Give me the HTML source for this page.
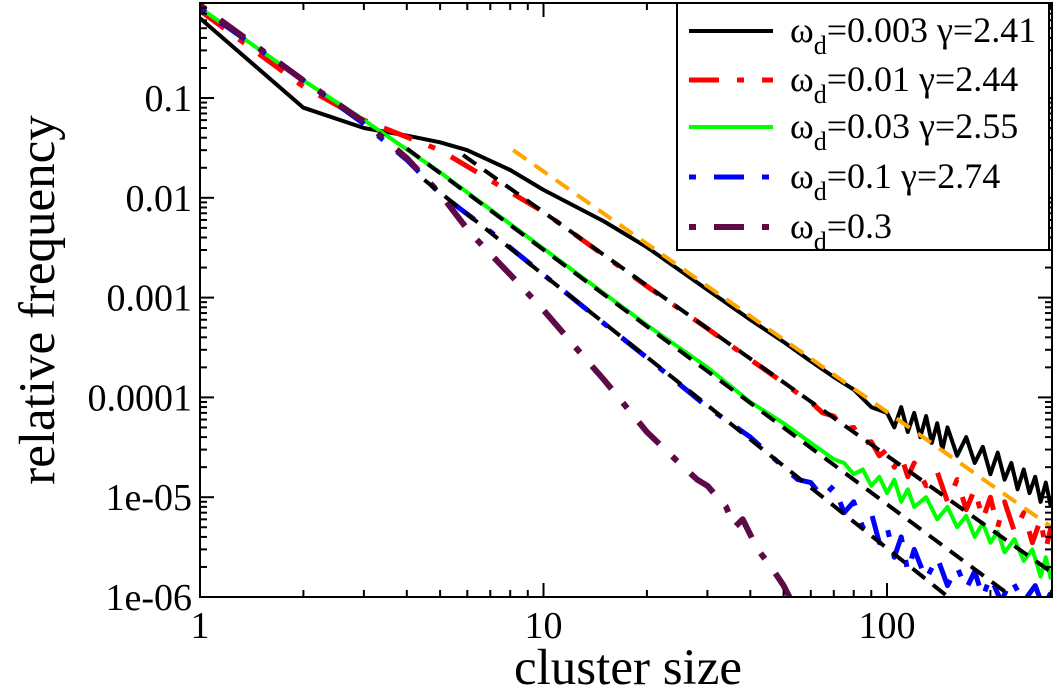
<!DOCTYPE html>
<html><head><meta charset="utf-8"><style>
html,body{margin:0;padding:0;background:#fff;}
svg{display:block;font-family:"Liberation Serif","DejaVu Serif",serif;}
</style></head><body>
<svg id="chart" width="1057" height="692" viewBox="0 0 1057 692" xmlns="http://www.w3.org/2000/svg">
<defs><clipPath id="plotclip"><rect x="200" y="3" width="852" height="594"/></clipPath></defs>
<g id="series" clip-path="url(#plotclip)"></g>
<g id="axes"></g>
<g id="legend"></g>
</svg>
<script>
const NS="http://www.w3.org/2000/svg";
// ---- data ----
const xBlack=[1,2,3,4,5,6,8,10,15,20,30,40,50,60,70,80,90,100,105,110,115,120,125,130,135,140,145,150,160,170,180,190,200,210,220,230,240,250,260,270,280,290,300];
const yBlack=[0.63,0.08,0.05,0.042,0.036,0.03,0.019,0.012,0.0058,0.0032,0.0012,6e-4,3.6e-4,2.3e-4,1.6e-4,1.2e-4,8e-5,7e-5,5e-5,8e-5,4.5e-5,7e-5,4e-5,6.5e-5,3.5e-5,5.5e-5,3e-5,5e-5,2.6e-5,4e-5,2.2e-5,3.2e-5,1.7e-5,2.8e-5,1.5e-5,2.2e-5,1.2e-5,1.9e-5,1.1e-5,1.6e-5,9e-6,1.4e-5,8e-6];
const xRed=[1,2,3,5,10,20,30,40,50,55,60,65,70,75,80,85,90,95,100,105,110,115,120,130,140,150,160,170,180,190,200,210,220,235,250,265,280,290,300];
const yRed=[0.75,0.13,0.06,0.03,0.0072,0.0013,4.9e-4,2.4e-4,1.4e-4,1.1e-4,9e-5,7e-5,6.5e-5,4.8e-5,5e-5,3.5e-5,3.6e-5,2.6e-5,3e-5,2e-5,2.6e-5,1.6e-5,2.2e-5,1.3e-5,1.8e-5,9e-6,1.5e-5,7.5e-6,1.2e-5,6e-6,1e-5,5e-6,9e-6,4.5e-6,7e-6,3.5e-6,6e-6,3e-6,5e-6];
const xGreen=[1,2,3,5,10,20,30,40,50,60,70,75,80,85,90,95,100,105,110,115,120,130,140,150,160,170,180,190,200,210,220,235,250,265,280,290,300];
const yGreen=[0.8,0.15,0.06,0.018,0.0031,5.3e-4,2.0e-4,9e-5,5.5e-5,3.5e-5,2.4e-5,2.2e-5,1.7e-5,1.9e-5,1.3e-5,1.6e-5,1.1e-5,1.5e-5,9e-6,1.2e-5,8e-6,1e-5,6e-6,8e-6,5e-6,6.5e-6,4e-6,5.5e-6,3.5e-6,4.5e-6,2.8e-6,3.8e-6,2.3e-6,3e-6,1.6e-6,2.5e-6,1.5e-6];
const xBlue=[1,2,3,4,5,7,10,15,20,30,40,50,55,60,65,70,75,80,85,90,95,100,105,110,115,120,130,140,150,160,170,180,190,200,215,230,250,270,285,300];
const yBlue=[0.8,0.15,0.055,0.024,0.011,4.6e-3,1.7e-3,5.5e-4,2.5e-4,8e-5,4e-5,2e-5,1.5e-5,1.4e-5,1e-5,1.3e-5,7e-6,9e-6,5e-6,7e-6,3.5e-6,5e-6,2.5e-6,4e-6,1.8e-6,3e-6,1.5e-6,2.5e-6,1.3e-6,2e-6,1.2e-6,1.8e-6,1e-6,1.6e-6,9e-7,1.5e-6,9e-7,1.3e-6,8e-7,1.1e-6];
const xPurple=[1,2,3,4,5,6.1,8,10,12.8,15,18,20,24.5,28,30,34,36,38,42,46,50,52];
const yPurple=[0.85,0.15,0.058,0.025,0.011,0.0045,0.0017,7.5e-4,2.8e-4,1.5e-4,7e-5,4.5e-5,2.3e-5,1.5e-5,1.3e-5,8e-6,5e-6,6e-6,3e-6,2e-6,1.3e-6,1e-6];
const fitGamma=[2.41,2.44,2.55,2.74];
const fitAmp=[4.73,1.98,1.07,0.93];
const fitStart=[8.16,5.83,4.0,4.5];
const fitEnd=[300,300,300,300];
const legendLabels=["=0.003 γ=2.41","=0.01 γ=2.44","=0.03 γ=2.55","=0.1 γ=2.74","=0.3"];
const xTicks=[1,10,100];
const yTicks=[0.1,0.01,0.001,0.0001,0.00001,0.000001];
const yTickLabels=["0.1","0.01","0.001","0.0001","1e-05","1e-06"];
// ---- scales ----
const X0=200,XD=343.5,Y0=98,YD=99.8;
function sx(v){return X0+Math.log10(v)*XD;}
function sy(v){return Y0+(-1-Math.log10(v))*YD;}
const styles=[
 {c:"#000",w:4,d:""},
 {c:"#ff0000",w:5,d:"30 18 7 18"},
 {c:"#00ff00",w:4,d:""},
 {c:"#0000ff",w:5,d:"7 18 30 18"},
 {c:"#5e0a48",w:6,d:"7 18 30 18"}];
const names=["series-wd-0.003","series-wd-0.01","series-wd-0.03","series-wd-0.1","series-wd-0.3"];
const xs=[xBlack,xRed,xGreen,xBlue,xPurple], ys=[yBlack,yRed,yGreen,yBlue,yPurple];
const gS=document.getElementById('series');
function mk(tag,attrs,parent){const e=document.createElementNS(NS,tag);for(const k in attrs)e.setAttribute(k,attrs[k]);parent.appendChild(e);return e;}
for(let i=0;i<5;i++){
  const pts=xs[i].map((x,j)=>sx(x).toFixed(1)+","+sy(ys[i][j]).toFixed(1)).join(" ");
  const p=mk('polyline',{points:pts,fill:"none",stroke:styles[i].c,"stroke-width":styles[i].w,"stroke-dasharray":styles[i].d,"stroke-linejoin":"round"},gS);
  
  
}
const fitColors=["#ffa500","#000","#000","#000"];
for(let i=0;i<4;i++){
  const a=fitStart[i],b=fitEnd[i];
  const l=mk('line',{x1:sx(a),y1:sy(fitAmp[i]*Math.pow(a,-fitGamma[i])),x2:sx(b),y2:sy(fitAmp[i]*Math.pow(b,-fitGamma[i])),stroke:fitColors[i],"stroke-width":4,"stroke-dasharray":"16 10"},gS);
  
  
}
// ---- axes ----
const gA=document.getElementById('axes');
const frame=mk('rect',{x:200,y:3,width:852,height:594,fill:"none",stroke:"#000","stroke-width":2},gA);


for(let d=0;d<3;d++){for(let m=1;m<10;m++){const v=m*Math.pow(10,d);const x=sx(v);if(x>1052)continue;const L=m==1?14:7;
 mk('line',{x1:x,y1:597,x2:x,y2:597-L,stroke:"#000","stroke-width":2},gA);
 mk('line',{x1:x,y1:3,x2:x,y2:3+L,stroke:"#000","stroke-width":2},gA);}}
xTicks.forEach(v=>{const t=mk('text',{x:sx(v),y:638,"text-anchor":"middle","font-size":38},gA);t.textContent=String(v);
 
 });
for(let e=-6;e<0;e++){for(let m=1;m<10;m++){const v=m*Math.pow(10,e);const y=sy(v);if(y<3)continue;const L=m==1?14:7;
 mk('line',{x1:200,y1:y,x2:200+L,y2:y,stroke:"#000","stroke-width":2},gA);
 mk('line',{x1:1052,y1:y,x2:1052-L,y2:y,stroke:"#000","stroke-width":2},gA);}}
yTicks.forEach((v,i)=>{const t=mk('text',{x:192,y:sy(v)+13,"text-anchor":"end","font-size":38},gA);t.textContent=yTickLabels[i];
 
 });
const xt=mk('text',{x:628,y:684,"text-anchor":"middle","font-size":51},gA);xt.textContent="cluster size";


const yt=mk('text',{x:0,y:0,"text-anchor":"middle","font-size":51,transform:"translate(54,300) rotate(-90)"},gA);yt.textContent="relative frequency";


// ---- legend ----
const gL=document.getElementById('legend');
const lb=mk('rect',{x:677,y:3,width:372,height:247,fill:"#fff",stroke:"#000","stroke-width":2},gL);


const ly=[31,80,127,177,227];
for(let i=0;i<5;i++){
  const g=mk('g',{},gL);
  
  
  mk('line',{x1:689,y1:ly[i],x2:773,y2:ly[i],stroke:styles[i].c,"stroke-width":styles[i].w,"stroke-dasharray":styles[i].d},g);
  const t=mk('text',{x:790,y:ly[i]+11,"font-size":36},g);
  const a=mk('tspan',{},t);a.textContent="ω";
  const b=mk('tspan',{dy:12,"font-size":26},t);b.textContent="d";
  const c=mk('tspan',{dy:-12},t);c.textContent=legendLabels[i];
}
</script>
</body></html>
